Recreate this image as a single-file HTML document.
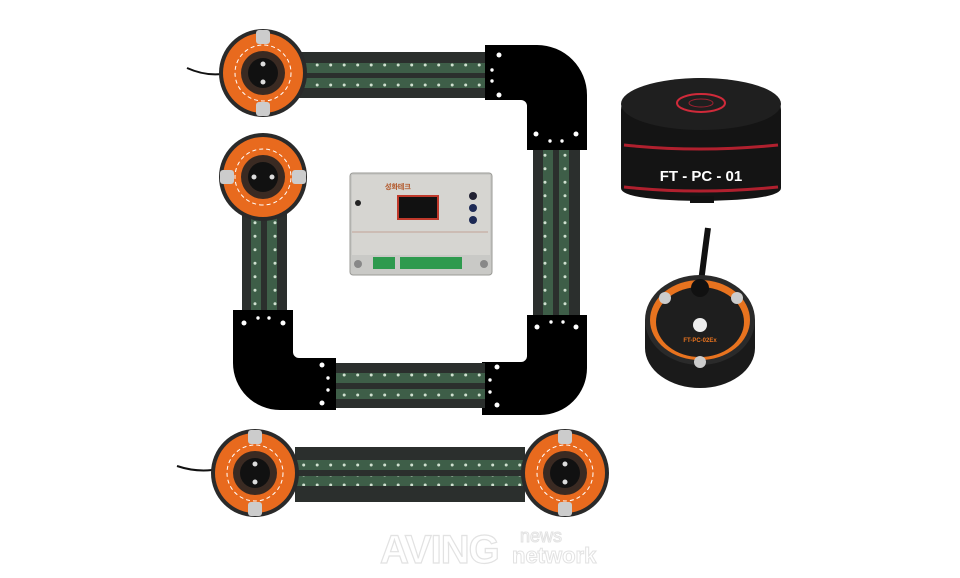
<!DOCTYPE html>
<html><head><style>
html,body{margin:0;padding:0;background:#fff;width:960px;height:578px;overflow:hidden}
svg{display:block}
text{font-family:"Liberation Sans",sans-serif}
</style></head><body>
<svg width="960" height="578" viewBox="0 0 960 578" xmlns="http://www.w3.org/2000/svg">
<defs>
<pattern id="dh" x="0" y="0" width="13.5" height="10" patternUnits="userSpaceOnUse"><circle cx="6.7" cy="5" r="1.5" fill="#cfe0cf"/></pattern>
<pattern id="dv" x="0" y="0" width="10" height="13.5" patternUnits="userSpaceOnUse"><circle cx="5" cy="6.7" r="1.5" fill="#cfe0cf"/></pattern>
<g id="sens">
<circle r="44" fill="#2a2a2a"/>
<circle r="40" fill="#e86a1e"/>
<circle r="28" fill="none" stroke="#fff" stroke-width="1" stroke-dasharray="4 3"/>
<circle r="22" fill="#3a2a22"/>
<circle r="15" fill="#111"/>
<circle cx="0" cy="-9" r="2.5" fill="#ddd"/><circle cx="0" cy="9" r="2.5" fill="#ddd"/>
<rect x="-7" y="-43" width="14" height="14" rx="3" fill="#ccc"/>
<rect x="-7" y="29" width="14" height="14" rx="3" fill="#ccc"/>
</g>
</defs>

<!-- top strip -->
<rect x="290" y="52" width="200" height="46" fill="#2b2f2d"/>
<rect x="290" y="63" width="200" height="10" fill="#3e5e48"/><rect x="290" y="63" width="200" height="10" fill="url(#dh)"/>
<rect x="290" y="78" width="200" height="10" fill="#3e5e48"/><rect x="290" y="78" width="200" height="10" fill="url(#dh)"/>
<!-- top-right elbow -->
<path d="M485 45 H537 A50 50 0 0 1 587 95 V150 H527 V106 A6 6 0 0 0 521 100 H485 Z" fill="#000"/>
<g fill="#fff"><circle cx="499" cy="55" r="2.5"/><circle cx="492" cy="70" r="1.7"/><circle cx="492" cy="81" r="1.7"/><circle cx="499" cy="95" r="2.5"/>
<circle cx="536" cy="134" r="2.5"/><circle cx="550" cy="141" r="1.7"/><circle cx="562" cy="141" r="1.7"/><circle cx="576" cy="134" r="2.5"/></g>
<!-- right vertical -->
<rect x="533" y="150" width="47" height="165" fill="#2b2f2d"/>
<rect x="543" y="150" width="10" height="165" fill="#3e5e48"/><rect x="543" y="150" width="10" height="165" fill="url(#dv)"/>
<rect x="559" y="150" width="10" height="165" fill="#3e5e48"/><rect x="559" y="150" width="10" height="165" fill="url(#dv)"/>
<!-- bottom-right elbow -->
<path d="M527 315 H587 V368 A47 47 0 0 1 540 415 H482 V362 H521 A6 6 0 0 0 527 356 Z" fill="#000"/>
<g fill="#fff"><circle cx="537" cy="327" r="2.5"/><circle cx="551" cy="322" r="1.7"/><circle cx="563" cy="322" r="1.7"/><circle cx="576" cy="327" r="2.5"/>
<circle cx="497" cy="367" r="2.5"/><circle cx="490" cy="380" r="1.7"/><circle cx="490" cy="392" r="1.7"/><circle cx="497" cy="405" r="2.5"/></g>
<!-- bottom strip -->
<rect x="335" y="363" width="150" height="45" fill="#2b2f2d"/>
<rect x="335" y="373" width="150" height="10" fill="#3e5e48"/><rect x="335" y="373" width="150" height="10" fill="url(#dh)"/>
<rect x="335" y="389" width="150" height="10" fill="#3e5e48"/><rect x="335" y="389" width="150" height="10" fill="url(#dh)"/>
<!-- bottom-left elbow -->
<path d="M233 310 H293 V352 A6 6 0 0 0 299 358 H336 V410 H280 A47 47 0 0 1 233 363 Z" fill="#000"/>
<g fill="#fff"><circle cx="244" cy="323" r="2.5"/><circle cx="258" cy="318" r="1.7"/><circle cx="269" cy="318" r="1.7"/><circle cx="283" cy="323" r="2.5"/>
<circle cx="322" cy="365" r="2.5"/><circle cx="328" cy="378" r="1.7"/><circle cx="328" cy="390" r="1.7"/><circle cx="322" cy="403" r="2.5"/></g>
<!-- left vertical -->
<rect x="242" y="210" width="45" height="100" fill="#2b2f2d"/>
<rect x="251" y="210" width="10" height="100" fill="#3e5e48"/><rect x="251" y="210" width="10" height="100" fill="url(#dv)"/>
<rect x="267" y="210" width="10" height="100" fill="#3e5e48"/><rect x="267" y="210" width="10" height="100" fill="url(#dv)"/>

<!-- sensors top-left -->
<path d="M187 68 Q205 76 222 74" stroke="#111" stroke-width="2" fill="none"/>
<use href="#sens" x="263" y="73"/>
<use href="#sens" x="263" y="177" transform="rotate(90 263 177)"/>

<!-- controller -->
<rect x="350" y="173" width="142" height="102" rx="3" fill="#c9c9c6" stroke="#9a9a96"/>
<rect x="352" y="175" width="138" height="80" fill="#d6d5d1"/>
<rect x="397" y="195" width="42" height="25" fill="#c0392b"/>
<rect x="399" y="197" width="38" height="21" fill="#111"/>
<text x="385" y="189" font-size="7" fill="#b05020" font-weight="bold">성화테크</text>
<circle cx="473" cy="196" r="4" fill="#223"/><circle cx="473" cy="208" r="4" fill="#1d2a55"/><circle cx="473" cy="220" r="4" fill="#1d2a55"/><circle cx="358" cy="203" r="3" fill="#222"/>
<rect x="373" y="257" width="22" height="12" fill="#2e9a4e"/>
<rect x="400" y="257" width="62" height="12" fill="#2e9a4e"/>
<circle cx="358" cy="264" r="4" fill="#888"/><circle cx="484" cy="264" r="4" fill="#888"/>
<line x1="352" y1="232" x2="488" y2="232" stroke="#b07060" stroke-width="0.6"/>

<!-- FT-PC-01 puck -->
<path d="M621 110 Q621 82 700 78 Q781 82 781 110 L781 188 Q781 200 700 201 Q621 200 621 188 Z" fill="#141414"/>
<ellipse cx="701" cy="104" rx="80" ry="26" fill="#1f1f1f"/>
<ellipse cx="701" cy="103" rx="24" ry="9" fill="none" stroke="#d02a3a" stroke-width="2"/>
<ellipse cx="701" cy="103" rx="12" ry="4" fill="none" stroke="#a02030" stroke-width="1"/>
<path d="M624 145 Q700 153 778 145" stroke="#b0202e" stroke-width="3" fill="none"/>
<path d="M624 187 Q700 195 778 187" stroke="#b0202e" stroke-width="3" fill="none"/>
<text x="701" y="181" font-size="15" fill="#fff" text-anchor="middle" font-weight="bold">FT - PC - 01</text>
<rect x="690" y="196" width="24" height="7" fill="#111"/>

<!-- FT-PC-02Ex -->
<path d="M708 228 Q705 250 700 290" stroke="#111" stroke-width="6" fill="none"/>
<path d="M645 320 L645 348 A55 40 0 0 0 755 348 L755 320 Z" fill="#1a1a1a"/>
<ellipse cx="700" cy="320" rx="55" ry="45" fill="#2a2a2a"/>
<ellipse cx="700" cy="320" rx="50" ry="40" fill="#e8731f"/>
<ellipse cx="700" cy="322" rx="44" ry="35" fill="#1e1e1e"/>
<circle cx="700" cy="325" r="7" fill="#eee"/>
<circle cx="700" cy="288" r="9" fill="#111"/>
<circle cx="665" cy="298" r="6" fill="#ccc"/><circle cx="737" cy="298" r="6" fill="#ccc"/><circle cx="700" cy="362" r="6" fill="#ccc"/>
<text x="700" y="342" font-size="6" fill="#e8731f" text-anchor="middle" font-weight="bold">FT-PC-02Ex</text>

<!-- bottom assembly -->
<rect x="295" y="447" width="230" height="55" fill="#2b2f2d"/>
<rect x="295" y="460" width="230" height="10" fill="#3e5e48"/><rect x="295" y="460" width="230" height="10" fill="url(#dh)"/>
<rect x="295" y="476" width="230" height="10" fill="#3e5e48"/><rect x="295" y="476" width="230" height="10" fill="url(#dh)"/>
<path d="M177 466 Q195 472 212 470" stroke="#111" stroke-width="2" fill="none"/>
<use href="#sens" x="255" y="473"/>
<use href="#sens" x="565" y="473"/>

<!-- watermark -->
<text x="380" y="563" font-size="40" fill="#fff" stroke="#e2e2e2" stroke-width="1.2" font-weight="bold" letter-spacing="-1">AVING</text>
<text x="520" y="542" font-size="18" fill="#fff" stroke="#e2e2e2" stroke-width="1">news</text>
<text x="512" y="563" font-size="22" fill="#fff" stroke="#e2e2e2" stroke-width="1" font-weight="bold">network</text>
</svg>
</body></html>
